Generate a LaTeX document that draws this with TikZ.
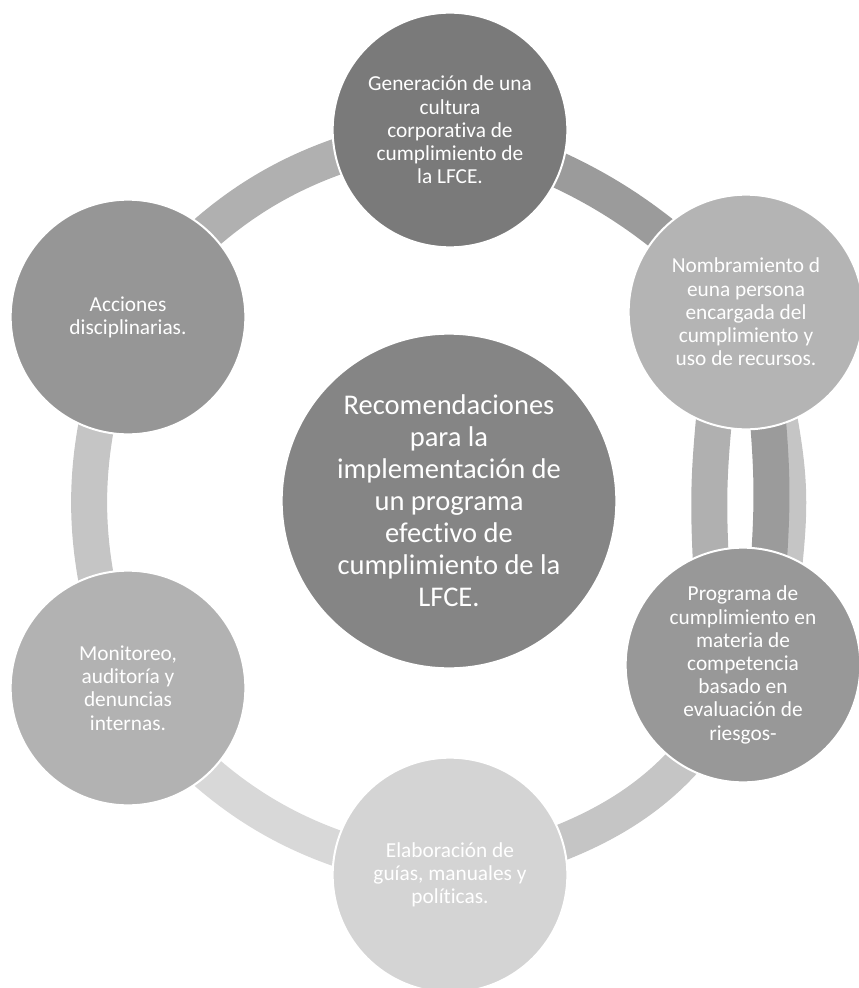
\documentclass[tikz,border=0pt]{standalone}
\usepackage{fontspec}
\setmainfont{Carlito}[Ligatures=NoCommon]
\usetikzlibrary{backgrounds}
\definecolor{hubgray}{HTML}{858585}
\definecolor{culturagray}{HTML}{7A7A7A}
\definecolor{encargadogray}{HTML}{B4B4B4}
\definecolor{programagray}{HTML}{989898}
\definecolor{guiasgray}{HTML}{D4D4D4}
\definecolor{monitoreogray}{HTML}{B2B2B2}
\definecolor{accionesgray}{HTML}{969696}
\definecolor{banda}{HTML}{9B9B9B}
\definecolor{bandb}{HTML}{B0B0B0}
\definecolor{bandc}{HTML}{C5C5C5}
\definecolor{bandd}{HTML}{D8D8D8}

\begin{document}
\begin{tikzpicture}[x=0.75pt, y=-0.75pt,
  item/.style={circle, draw=white, line width=1.5pt, minimum size=176pt, inner sep=0pt, align=center, text=white, font=\fontsize{16}{17.4}\selectfont},
  hub/.style={item, minimum size=251pt, font=\fontsize{21.4}{24}\selectfont},
  band/.style={line width=27pt},
  ends/.style={shorten <=-6pt, shorten >=-6pt}]
\useasboundingbox (0,0) rectangle (859,988);

\node[hub, fill=hubgray] (hub) at (449,501) {Recomendaciones\\para la\\implementación de\\un programa\\efectivo de\\cumplimiento de la\\LFCE.};
\node[item, fill=culturagray] (cultura) at (450,130) {Generación de una\\cultura\\corporativa de\\cumplimiento de\\la LFCE.};
\node[item, fill=encargadogray] (encargado) at (746,312) {Nombramiento d\\euna persona\\encargada del\\cumplimiento y\\uso de recursos.};
\node[item, fill=programagray] (programa) at (743,665) {Programa de\\cumplimiento en\\materia de\\competencia\\basado en\\evaluación de\\riesgos-};
\node[item, fill=guiasgray] (guias) at (450,875) {Elaboración de\\guías, manuales y\\políticas.};
\node[item, fill=monitoreogray] (monitoreo) at (128,688) {Monitoreo,\\auditoría y\\denuncias\\internas.};
\node[item, fill=accionesgray] (acciones) at (128,317) {Acciones\\disciplinarias.};

\begin{scope}[on background layer]
\draw[band, draw=bandb] (cultura.center) to[bend right=22] (acciones.center);
\draw[band, draw=bandc] (acciones.center) to[bend right=21] (monitoreo.center);
\draw[band, draw=bandd] (monitoreo.center) to[bend right=22] (guias.center);
\draw[band, draw=bandc] (guias.center) to[out=12, in=248] (programa.center);
\draw[band, draw=banda] (cultura.center) to[bend left=15] (encargado.center);
\draw[band, ends, draw=bandc] (encargado.287) to[bend left=8] (programa.69);
\draw[band, ends, draw=banda] (encargado.281) to[bend left=4] (programa.77);
\draw[band, ends, draw=bandb] (encargado.254) to[bend right=4] (programa.106);
\end{scope}
\end{tikzpicture}
\end{document}
